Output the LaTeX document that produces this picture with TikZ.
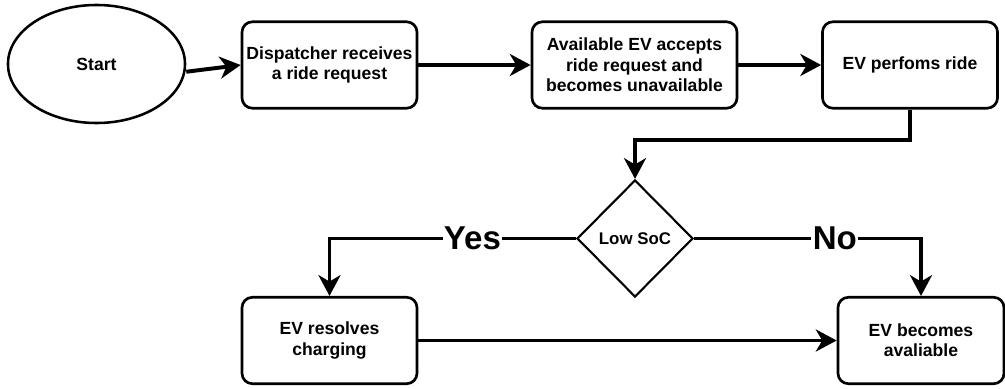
\documentclass[tikz,border=0pt]{standalone}
\usepackage{fontspec}
\setmainfont{Liberation Sans}
\usepackage{tikz}
\usetikzlibrary{calc,arrows.meta,positioning,shapes.geometric}

\begin{document}
\begin{tikzpicture}[x=0.025cm,y=-0.025cm,>={Stealth[length=5.2mm,width=5.5mm,inset=1.6mm]},
    box/.style={draw,line width=1.9pt,rounded corners=0.26cm,align=center,
      minimum width=4.375cm,minimum height=2.16cm,inner sep=2pt,
      font=\bfseries\fontsize{12.5}{14.5}\selectfont},
    startnode/.style={draw,ellipse,line width=1.8pt,minimum width=4.425cm,
      minimum height=2.95cm,font=\bfseries\fontsize{12.5}{14.5}\selectfont},
    decision/.style={draw,diamond,aspect=1,line width=1.5pt,inner sep=0pt,
      minimum width=2.9cm,minimum height=2.925cm,
      font=\bfseries\fontsize{12}{14}\selectfont},
    flow/.style={->,line width=2.8pt},
    answer/.style={fill=white,inner sep=1pt,font=\bfseries\fontsize{23.5}{26}\selectfont}]
  \useasboundingbox (0,0) rectangle (1005,388);
  % top row
  \node[startnode] (start) at (96.5,64) {Start};
  \node[box] (disp) at (329.5,65) {Dispatcher receives\\a ride request};
  \node[box,minimum width=5.125cm] (accept) at (634.5,65) {Available EV accepts\\ride request and\\becomes unavailable};
  \node[box] (ride) at (910,65) {EV perfoms ride};
  % decision
  \node[decision] (soc) at (635,238.5) {Low SoC};
  % bottom row
  \node[box] (charge) at (329.5,340.5) {EV resolves\\charging};
  \node[box,minimum width=4.15cm] (avail) at (921,340.5) {EV becomes\\avaliable};
  % connectors
  \draw[flow] ([yshift=-5.5pt]start.east) -- (disp.west);
  \draw[flow] (disp.east) -- (accept.west);
  \draw[flow] (accept.east) -- (ride.west);
  \draw[flow] (ride.south) -- ++(0,30) -| (soc.north);
  \draw[flow] (soc.west) -| node[answer,pos=0.21] {Yes} (charge.north);
  \draw[flow] (soc.east) -| node[answer,pos=0.31] {No} (avail.north);
  \draw[flow] (charge.east) -- (avail.west);
\end{tikzpicture}
\end{document}
